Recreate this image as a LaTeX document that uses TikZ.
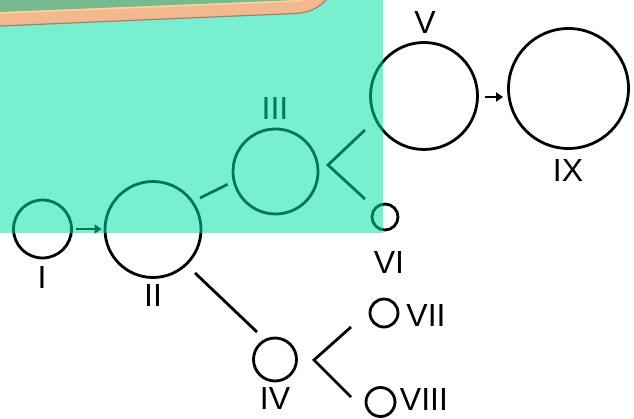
\documentclass[tikz,border=0pt]{standalone}
\usepackage{fontspec}
\setmainfont{Liberation Sans}
\usetikzlibrary{calc,arrows.meta}
\definecolor{tealov}{RGB}{0,225,165}
\definecolor{peach}{RGB}{242,184,142}
\definecolor{panelgreen}{RGB}{118,186,146}
\definecolor{rimyellow}{RGB}{250,215,150}
\definecolor{rimshadow}{RGB}{165,125,115}
\tikzset{
  circ/.style={circle,draw=black,line width=2.8pt,inner sep=0pt,minimum size=#1},
  lbl/.style={inner sep=0pt,font=\fontsize{32}{32}\selectfont},
  conn/.style={line width=2.8pt,draw=black},
  arr/.style={line width=2.5pt,draw=black,-{Triangle[length=7pt,width=9pt]}},
}
\begin{document}
\begin{tikzpicture}[x=1pt,y=-1pt]
\useasboundingbox (0,0) rectangle (634,419);
\fill[white] (0,0) rectangle (634,419);
% circles
\node[circ=58pt] (I) at (42.5,229) {};
\node[circ=96pt] (II) at (153,229.5) {};
\node[circ=85pt] (III) at (275.5,171.5) {};
\node[circ=107pt] (V) at (424,96) {};
\node[circ=120pt] (IX) at (568.5,88.5) {};
\node[circ=26pt] (VI) at (385,217) {};
\node[circ=43pt] (IV) at (275,359.5) {};
\node[circ=28pt] (VII) at (384,313) {};
\node[circ=29pt] (VIII) at (380.5,402) {};
% labels
\node[lbl] (lI) at (42,277) {I};
\node[lbl] (lII) at (153,295) {II};
\node[lbl] (lIII) at (275,108) {III};
\node[lbl] (lV) at (425,22) {V};
\node[lbl] (lIX) at (568,170) {IX};
\node[lbl] (lVI) at (389,262) {VI};
\node[lbl] (lIV) at (275,398) {IV};
\node[lbl] (lVII) at (426,315) {VII};
\node[lbl] (lVIII) at (424,399) {VIII};
% connectors
\draw[arr] ($(I.east)+(3,0)$) -- ($(II.west)+(-2,-0.5)$);
\draw[arr] ($(V.east)+(6,1)$) -- ($(IX.west)+(-4,8.5)$);
\draw[conn] ($(II)+(47,-31.5)$) -- ($(III)+(-47.8,12.8)$);
\draw[conn] ($(II)+(42,43.5)$) -- ($(IV)+(-18,-27.5)$);
\draw[conn] ($(V)+(-59,34)$) -- ($(III)+(52.5,-6.5)$) -- ($(VI)+(-20,-18)$);
\draw[conn] ($(VII)+(-33,14)$) -- ($(IV)+(39,0.5)$) -- ($(VIII)+(-29.5,-5)$);
% translucent overlay
\fill[tealov,fill opacity=0.53] (0,0) rectangle (383,233);
% top panel fragment
\fill[peach] (0,0) -- (0,26) -- (295,13.5) .. controls (312,12.8) and (320,6) .. (326,0) -- cycle;
\fill[panelgreen] (0,0) -- (0,12) -- (303,0) -- cycle;
\draw[rimyellow,line width=1.5pt] (0,13) -- (303,0.6);
\draw[rimshadow,line width=1.2pt] (0,26) -- (295,13.5) .. controls (312,12.8) and (320,6) .. (326,0);
\end{tikzpicture}
\end{document}
